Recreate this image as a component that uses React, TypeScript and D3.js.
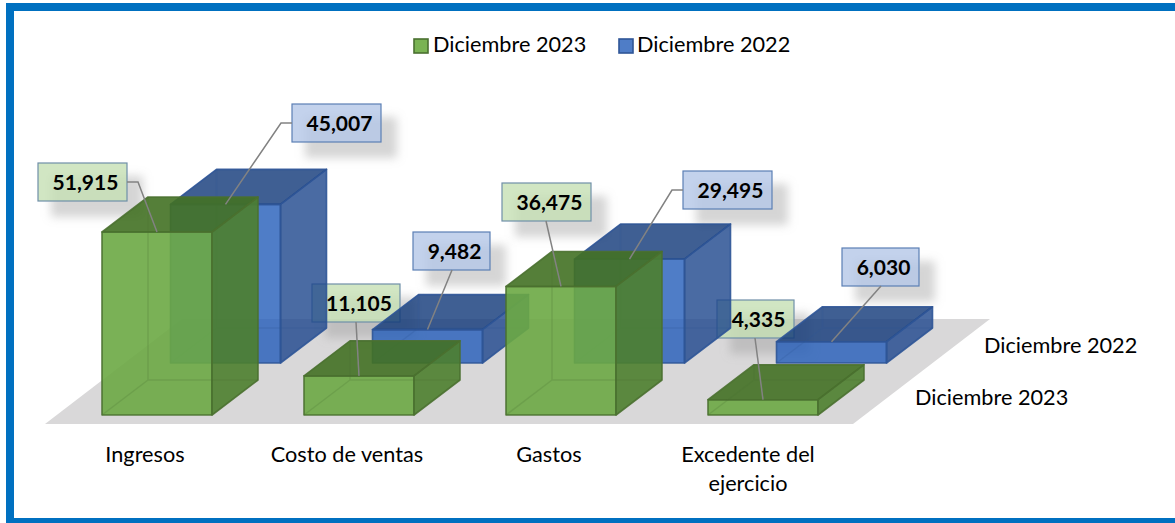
import React from "react";
import * as d3 from "d3";

const categories = ["Ingresos", "Costo de ventas", "Gastos", "Excedente del ejercicio"];
const categoryLines = [["Ingresos"], ["Costo de ventas"], ["Gastos"], ["Excedente del", "ejercicio"]];
const seriesNames = ["Diciembre 2023", "Diciembre 2022"];
const values2023 = [51915, 11105, 36475, 4335];
const values2022 = [45007, 9482, 29495, 6030];

const W = 1175;
const H = 523;
const FONT = "Lato, 'Open Sans', sans-serif";
const AXIS_SIZE = 21.7;

const x = d3.scaleBand<string>().domain(categories).range([44, 852]);
const heightScale = d3.scaleLinear().domain([0, 60000]).range([0, 211.5]);
const depthRow = d3.scalePoint<string>().domain(seriesNames).range([0, 1]);

const BAR_W = 110;
const DX = 46;
const DY = -35;
const BASE_Y = 415;
const ROW_DX = 68.5;
const ROW_DY = -52;

const palette = [
  { alpha: 0.9, front: "#6CA844", top: "#437124", side: "#4D7F2D", stroke: "#4A7030", box: "#C5E0B4", boxStroke: "#6F8FA8", legend: "#7AB353" },
  { alpha: 0.8, front: "#235CB9", top: "#0F3778", side: "#1D468C", stroke: "#2F5597", box: "#B4C7E7", boxStroke: "#5B7FB5", legend: "#4F7DC7" },
];

const boxes2023 = [
  { x: 38, y: 163, w: 89, side: "right" },
  { x: 312, y: 284, w: 88, side: "bottom", fx: 356 },
  { x: 502, y: 183, w: 89, side: "bottom", fx: 546 },
  { x: 717, y: 300, w: 77, side: "bottom", fx: 755 },
];
const boxes2022 = [
  { x: 292, y: 104, w: 89, side: "left" },
  { x: 413, y: 232, w: 77, side: "bottom", fx: 452 },
  { x: 683, y: 171, w: 89, side: "left" },
  { x: 842, y: 248, w: 77, side: "bottom", fx: 881 },
];
const BOX_H = 38;
const fmt = d3.format(",");
const line = d3.line();

type Bar = { sx: number; cat: number; value: number; fx: number; fy: number; h: number };
function makeBars(vals: number[], s: number): Bar[] {
  const r = depthRow(seriesNames[s]) as number;
  return vals.map((v, i) => {
    const center = (x(categories[i]) as number) + x.bandwidth() / 2;
    return {
      sx: s,
      cat: i,
      value: v,
      fx: center - 43 + r * ROW_DX,
      fy: BASE_Y + r * ROW_DY,
      h: heightScale(v),
    };
  });
}
const bars2023 = makeBars(values2023, 0);
const bars2022 = makeBars(values2022, 1);

function poly(pts: [number, number][]) {
  return line(pts) + "Z";
}

function Box3D({ b }: { b: Bar }) {
  const c = palette[b.sx];
  const l = b.fx, r = b.fx + BAR_W, bot = b.fy, t = b.fy - b.h;
  const op = c.alpha;
  const hidden = `M${l},${bot}L${l + DX},${bot + DY}L${r + DX},${bot + DY}M${l + DX},${bot + DY}L${l + DX},${t + DY}`;
  return (
    <g strokeLinejoin="round">
      <path d={poly([[l, t], [r, t], [r, bot], [l, bot]])} fill={c.front} fillOpacity={op} stroke={c.stroke} strokeOpacity={0.9} strokeWidth={1.6} />
      <path d={poly([[r, t], [r + DX, t + DY], [r + DX, bot + DY], [r, bot]])} fill={c.side} fillOpacity={op} stroke={c.stroke} strokeOpacity={0.9} strokeWidth={1.6} />
      <path d={poly([[l, t], [l + DX, t + DY], [r + DX, t + DY], [r, t]])} fill={c.top} fillOpacity={op} stroke={c.stroke} strokeOpacity={0.9} strokeWidth={1.6} />
      <path d={hidden} stroke={c.stroke} strokeOpacity={0.22} strokeWidth={1.5} fill="none" />
    </g>
  );
}

function LabelBox({ b, box }: { b: Bar; box: any }) {
  const c = palette[b.sx];
  return (
    <g>
      <rect x={box.x + 13} y={box.y + 13} width={box.w + 3} height={BOX_H + 3} fill="#9a9a9a" fillOpacity={0.42} filter="url(#blurShadow)" />
      <rect x={box.x} y={box.y} width={box.w} height={BOX_H} fill={c.box} fillOpacity={0.8} stroke={c.boxStroke} strokeWidth={1.2} />
    </g>
  );
}

function LabelText({ b, box }: { b: Bar; box: any }) {
  return (
    <text x={box.x + box.w / 2 + 3} y={box.y + 27} textAnchor="middle" fontFamily={FONT} fontWeight={700} fontSize={21} fill="#000">
      {fmt(b.value)}
    </text>
  );
}

function Leader({ b, box }: { b: Bar; box: any }) {
  const ax = b.fx + BAR_W / 2;
  const ay = b.fy - b.h;
  const midY = box.y + BOX_H / 2;
  let pts: [number, number][];
  if (box.side === "right") pts = [[box.x + box.w, midY], [box.x + box.w + 11, midY], [ax, ay]];
  else if (box.side === "left") pts = [[box.x, midY], [box.x - 11, midY], [ax, ay]];
  else pts = [[box.fx, box.y + BOX_H], [ax, ay]];
  return <path d={line(pts) as string} fill="none" stroke="#828282" strokeWidth={1.5} />;
}

export default function App() {
  const floorY0 = 424;
  const floorY1 = 319;
  const floorRun = 137;
  return (
    <svg width={W} height={H} viewBox={`0 0 ${W} ${H}`} style={{ position: "absolute", left: 0, top: 0, background: "#fff" }}>
      <defs>
        <filter id="blurShadow" x="-30%" y="-60%" width="160%" height="220%">
          <feGaussianBlur stdDeviation="5" />
        </filter>
        <filter id="softFloor" x="-2%" y="-5%" width="104%" height="110%">
          <feGaussianBlur stdDeviation="0.5" />
        </filter>
      </defs>

      <rect x={10} y={7} width={W + 20} height={515} fill="none" stroke="#0070C0" strokeWidth={8} />

      <path
        d={poly([[x.range()[0] + 1, floorY0], [x.range()[1] + 1, floorY0], [x.range()[1] + 1 + floorRun, floorY1], [x.range()[0] + 1 + floorRun, floorY1]])}
        fill="#D9D8D9"
        filter="url(#softFloor)"
      />

      {seriesNames.map((n, i) => {
        const lx = [414, 619][i];
        return (
          <g key={n}>
            <rect x={lx} y={39} width={14} height={14} fill={palette[i].legend} stroke={palette[i].stroke} strokeWidth={1.6} />
            <text x={[433, 637][i]} y={52} fontFamily={FONT} fontSize={AXIS_SIZE} fill="#000">{n}</text>
          </g>
        );
      })}

      {bars2023.map((b, i) => <LabelBox key={i} b={b} box={boxes2023[i]} />)}
      {bars2022.map((b, i) => <LabelBox key={i} b={b} box={boxes2022[i]} />)}

      {bars2022.map((b, i) => <Box3D key={i} b={b} />)}
      {bars2023.map((b, i) => <Box3D key={i} b={b} />)}

      {bars2023.map((b, i) => <Leader key={i} b={b} box={boxes2023[i]} />)}
      {bars2022.map((b, i) => <Leader key={i} b={b} box={boxes2022[i]} />)}

      {bars2023.map((b, i) => <LabelText key={i} b={b} box={boxes2023[i]} />)}
      {bars2022.map((b, i) => <LabelText key={i} b={b} box={boxes2022[i]} />)}

      {categories.map((c, i) => {
        const lines = categoryLines[i];
        const cx = (x(c) as number) + x.bandwidth() / 2 - (lines.length > 1 ? 3 : 0);
        return (
          <text key={c} textAnchor="middle" fontFamily={FONT} fontSize={AXIS_SIZE} fill="#000">
            {lines.map((t, j) => (
              <tspan key={t} x={cx} y={462 + j * 28.5}>{t}</tspan>
            ))}
          </text>
        );
      })}

      {seriesNames.map((n, i) => (
        <text key={n} x={[915, 984][i]} y={[405, 353][i]} fontFamily={FONT} fontSize={AXIS_SIZE} fill="#000">{n}</text>
      ))}
    </svg>
  );
}
